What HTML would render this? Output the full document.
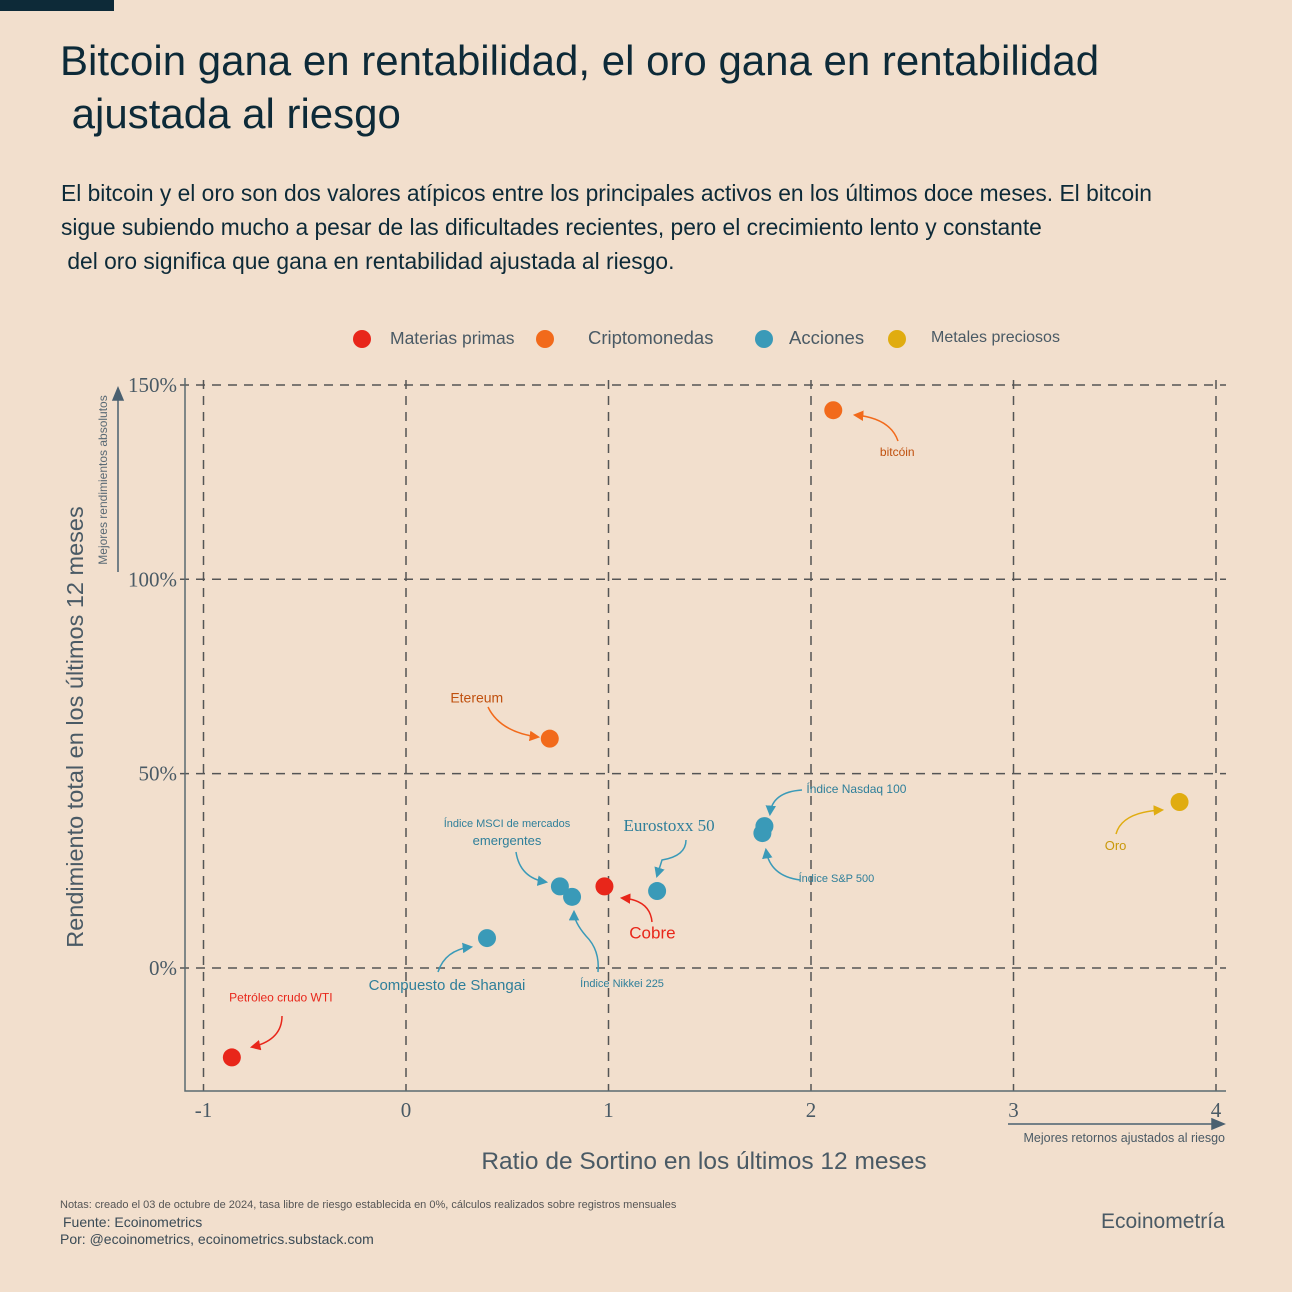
<!DOCTYPE html>
<html><head><meta charset="utf-8"><style>
html,body{margin:0;padding:0;background:#f2dfcd;}
body{width:1292px;height:1292px;position:relative;overflow:hidden;font-family:"Liberation Sans",sans-serif;}
.t{position:absolute;white-space:nowrap;}
</style></head><body>
<div style="position:absolute;left:0;top:0;width:114px;height:11px;background:#0d2a38"></div>
<div class="t" style="left:60px;top:34px;font-size:42px;line-height:53px;color:#0d2a38">Bitcoin gana en rentabilidad, el oro gana en rentabilidad<br>&nbsp;ajustada al riesgo</div>
<div class="t" style="left:61px;top:176px;font-size:22.8px;line-height:34px;color:#0d2a38">El bitcoin y el oro son dos valores atípicos entre los principales activos en los últimos doce meses. El bitcoin<br>sigue subiendo mucho a pesar de las dificultades recientes, pero el crecimiento lento y constante<br>&nbsp;del oro significa que gana en rentabilidad ajustada al riesgo.</div>
<svg id="chart" width="1292" height="1292" style="position:absolute;left:0;top:0" font-family="Liberation Sans, sans-serif">
<defs>
<marker id="ah-com" viewBox="0 0 10 10" refX="8" refY="5" markerWidth="7" markerHeight="7" orient="auto"><path d="M0 0 L10 5 L0 10z" fill="#e8261a"/></marker>
<marker id="ah-cry" viewBox="0 0 10 10" refX="8" refY="5" markerWidth="7" markerHeight="7" orient="auto"><path d="M0 0 L10 5 L0 10z" fill="#f26a1b"/></marker>
<marker id="ah-eq" viewBox="0 0 10 10" refX="8" refY="5" markerWidth="7" markerHeight="7" orient="auto"><path d="M0 0 L10 5 L0 10z" fill="#3a9ab8"/></marker>
<marker id="ah-met" viewBox="0 0 10 10" refX="8" refY="5" markerWidth="7" markerHeight="7" orient="auto"><path d="M0 0 L10 5 L0 10z" fill="#e0ac10"/></marker>
</defs>
</svg>
<div class="t" style="left:60px;top:1199px;font-size:11px;color:#555">Notas: creado el 03 de octubre de 2024, tasa libre de riesgo establecida en 0%, cálculos realizados sobre registros mensuales</div>
<div class="t" style="left:63px;top:1214px;font-size:14px;color:#3a4a55">Fuente: Ecoinometrics</div>
<div class="t" style="left:60px;top:1231px;font-size:14px;color:#3a4a55">Por: @ecoinometrics, ecoinometrics.substack.com</div>
<div class="t" style="left:1101px;top:1210px;font-size:21px;color:#4a5a65">Ecoinometría</div>
<script>
const names=["Petróleo crudo WTI","bitcóin","Etereum","Compuesto de Shangai","Índice MSCI de mercados emergentes","Índice Nikkei 225","Cobre","Eurostoxx 50","Índice Nasdaq 100","Índice S&P 500","Oro"];
const groups=["com","cry","cry","eq","eq","eq","com","eq","eq","eq","met"];
const sortino=[-0.86,2.11,0.71,0.40,0.76,0.82,0.98,1.24,1.77,1.76,3.82];
const returns=[-23,143.5,59,7.7,21,18.3,21,19.8,36.5,34.7,42.7];
const xTicks=[-1,0,1,2,3,4];
const yTicks=[0,50,100,150];
const colors={com:"#e8261a",cry:"#f26a1b",eq:"#3a9ab8",met:"#e0ac10"};
const X=v=>406+v*202.5, Y=v=>968-v*3.887;
const svg=document.getElementById('chart');const NS="http://www.w3.org/2000/svg";
function mk(t,a,txt){const e=document.createElementNS(NS,t);for(const k in a)e.setAttribute(k,a[k]);if(txt!=null)e.textContent=txt;svg.appendChild(e);return e;}
let e;
xTicks.forEach(t=>{e=mk('line',{x1:X(t),x2:X(t),y1:380,y2:1091,stroke:'#555',"stroke-width":1.5,"stroke-dasharray":"9,7"});

e=mk('text',{x:X(t),y:1117,"text-anchor":"middle","font-size":21,fill:'#4a5a65',"font-family":"Liberation Serif, serif"},String(t));
});
yTicks.forEach(t=>{e=mk('line',{x1:180,x2:1226,y1:Y(t),y2:Y(t),stroke:'#555',"stroke-width":1.5,"stroke-dasharray":"9,7"});

e=mk('text',{x:177,y:Y(t)+7,"text-anchor":"end","font-size":21,fill:'#4a5a65',"font-family":"Liberation Serif, serif"},t+'%');
});
e=mk('path',{d:'M185 378 V1091 H1226',fill:'none',stroke:'#5a6a70',"stroke-width":1.5});

e=mk('text',{x:704,y:1169,"text-anchor":"middle","font-size":24.5,fill:'#4a5a65'},'Ratio de Sortino en los últimos 12 meses');

e=mk('text',{transform:'translate(83,727) rotate(-90)',"text-anchor":"middle","font-size":23.5,fill:'#4a5a65'},'Rendimiento total en los últimos 12 meses');

e=mk('text',{transform:'translate(107,480) rotate(-90)',"text-anchor":"middle","font-size":12,fill:'#5a6a75'},'Mejores rendimientos absolutos');

e=mk('path',{d:'M118 572 V392 M113 400 L118 388 L123 400Z',stroke:'#4a6070',fill:'#4a6070',"stroke-width":1.5});

e=mk('text',{x:1225,y:1142,"text-anchor":"end","font-size":12.5,fill:'#4a5a65'},'Mejores retornos ajustados al riesgo');

e=mk('path',{d:'M1008 1124 H1220 M1212 1119 L1224 1124 L1212 1129Z',stroke:'#4a6070',fill:'#4a6070',"stroke-width":1.5});

const leg=[["com","Materias primas",362,390],["cry","Criptomonedas",545,588],["eq","Acciones",764,789],["met","Metales preciosos",897,931]];
leg.forEach(l=>{e=mk('circle',{cx:l[2],cy:339,r:9,fill:colors[l[0]]});
e=mk('text',{x:l[3],y:l[0]=="met"?342:344,"font-size":l[0]=="met"?16:l[0]=="com"?17.5:18.5,fill:'#4a5a65'},l[1]);});
names.forEach((n,i)=>{e=mk('circle',{cx:X(sortino[i]),cy:Y(returns[i]),r:9,fill:colors[groups[i]]});
});
const ann=[
[0,"Petróleo crudo WTI",49,-56,12,"M282 1016 Q282 1040 252 1047"],
[1,"bitcóin",64,46,12,"M898 441 Q890 418 855 415"],
[2,"Etereum",-73,-36,14,"M488 707 Q500 732 538 737"],
[3,"Compuesto de Shangai",-40,52,15,"M438 972 Q445 950 471 947"],
[6,"Cobre",48,52,17,"M652 922 Q650 900 622 898"],
[7,"Eurostoxx 50",12,-60,17,"M686 840 Q686 856 662 860 L657 876"],
[8,"Índice Nasdaq 100",92,-33,12,"M802 790 Q772 792 770 814"],
[9,"Índice S&P 500",74,49,11,"M800 880 Q770 876 766 850"],
[10,"Oro",-64,48,13,"M1116 834 Q1122 812 1162 810"],
[5,"Índice Nikkei 225",50,90,11,"M598 972 Q600 950 586 936 Q574 922 574 912"]];
ann.forEach(a=>{const i=a[0];const c=groups[i]=="met"?"#c9980a":groups[i]=="cry"?"#c0500e":groups[i]=="eq"?"#2f7f9a":colors[groups[i]];
const fam=i==7?"Liberation Serif, serif":"Liberation Sans, sans-serif";
e=mk('text',{x:X(sortino[i])+a[2],y:Y(returns[i])+a[3],"text-anchor":"middle","font-size":a[4],fill:c,"font-family":fam},a[1]);

e=mk('path',{d:a[5],fill:'none',stroke:colors[groups[i]],"stroke-width":1.5,"marker-end":"url(#ah-"+groups[i]+")"});
});
e=mk('text',{x:507,y:827,"text-anchor":"middle","font-size":11,fill:'#2f7f9a'},'Índice MSCI de mercados');

e=mk('text',{x:507,y:845,"text-anchor":"middle","font-size":13,fill:'#2f7f9a'},'emergentes');

e=mk('path',{d:'M516 852 Q520 878 546 882',fill:'none',stroke:colors.eq,"stroke-width":1.5,"marker-end":"url(#ah-eq)"});

</script>
</body></html>
